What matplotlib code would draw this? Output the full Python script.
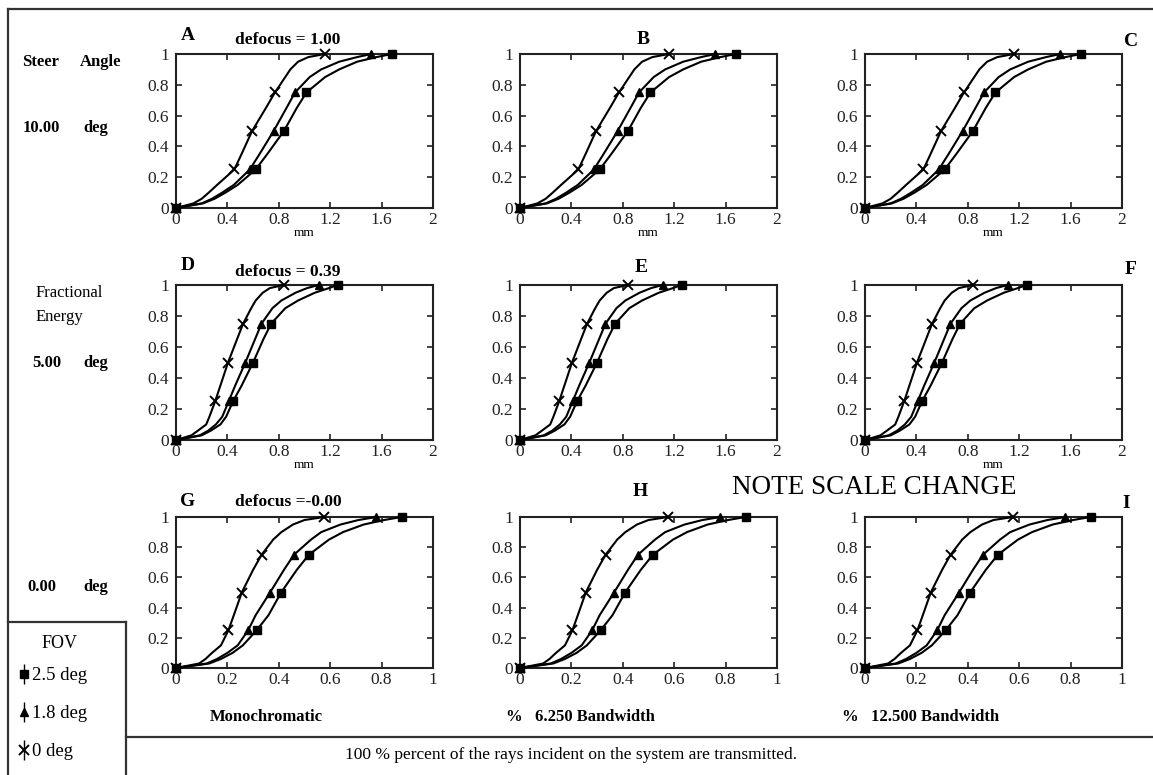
import matplotlib
matplotlib.use('Agg')
import matplotlib.pyplot as plt
from matplotlib.lines import Line2D
from matplotlib.legend_handler import HandlerTuple

plt.rcParams['font.family'] = ['Liberation Serif', 'DejaVu Serif']

# fractional energy levels where the radius (mm) was read
energy = [0, 0.03, 0.06, 0.1, 0.15, 0.25, 0.35, 0.5, 0.65, 0.75, 0.85, 0.9, 0.95, 0.98, 1.0]
marker_idx = [0, 5, 7, 9, 14]   # markers at 0, .25, .5, .75, 1

# row 1 : steer 10 deg, defocus 1.00
r1_fov0 = [0, 0.136, 0.20, 0.255, 0.32, 0.454, 0.51, 0.592, 0.70, 0.77, 0.85, 0.89, 0.95, 1.03, 1.16]
r1_fov18 = [0, 0.20, 0.28, 0.36, 0.45, 0.574, 0.65, 0.76, 0.86, 0.926, 1.04, 1.13, 1.27, 1.41, 1.52]
r1_fov25 = [0, 0.21, 0.30, 0.385, 0.48, 0.62, 0.71, 0.84, 0.94, 1.015, 1.16, 1.27, 1.41, 1.56, 1.68]
# row 2 : steer 5 deg, defocus 0.39
r2_fov0 = [0, 0.12, 0.17, 0.235, 0.26, 0.305, 0.345, 0.405, 0.475, 0.522, 0.585, 0.62, 0.675, 0.73, 0.84]
r2_fov18 = [0, 0.185, 0.25, 0.31, 0.36, 0.41, 0.46, 0.54, 0.615, 0.665, 0.75, 0.82, 0.93, 1.02, 1.11]
r2_fov25 = [0, 0.20, 0.27, 0.345, 0.39, 0.444, 0.51, 0.60, 0.68, 0.74, 0.85, 0.95, 1.08, 1.19, 1.257]
# row 3 : steer 0 deg, defocus -0.00
r3_fov0 = [0, 0.09, 0.115, 0.14, 0.175, 0.204, 0.225, 0.256, 0.30, 0.333, 0.378, 0.41, 0.455, 0.50, 0.576]
r3_fov18 = [0, 0.12, 0.16, 0.20, 0.24, 0.281, 0.31, 0.366, 0.42, 0.459, 0.525, 0.565, 0.64, 0.71, 0.78]
r3_fov25 = [0, 0.13, 0.175, 0.22, 0.26, 0.314, 0.36, 0.409, 0.47, 0.517, 0.595, 0.65, 0.73, 0.81, 0.878]

rows_data = [(r1_fov0, r1_fov18, r1_fov25),
             (r2_fov0, r2_fov18, r2_fov25),
             (r3_fov0, r3_fov18, r3_fov25)]

panel_letters = [['A', 'B', 'C'], ['D', 'E', 'F'], ['G', 'H', 'I']]
defocus_labels = ['defocus = 1.00', 'defocus = 0.39', 'defocus =-0.00']
steer_labels = ['10.00', '5.00', '0.00']
bandwidth_labels = ['Monochromatic', '%   6.250 Bandwidth', '%   12.500 Bandwidth']
fov_labels = ['2.5 deg', '1.8 deg', '0 deg']

y_ticks = [0, 0.2, 0.4, 0.6, 0.8, 1]
y_ticklabels = ['0', '0.2', '0.4', '0.6', '0.8', '1']
x_ticks_wide = [0, 0.4, 0.8, 1.2, 1.6, 2]
x_ticklabels_wide = ['0', '0.4', '0.8', '1.2', '1.6', '2']
x_ticks_narrow = [0, 0.2, 0.4, 0.6, 0.8, 1]
x_ticklabels_narrow = ['0', '0.2', '0.4', '0.6', '0.8', '1']

W, H = 1153, 775
fig = plt.figure(figsize=(W / 100, H / 100), dpi=100)

# background axes in pixel coordinates for frame lines and loose text
bg = fig.add_axes([0, 0, 1, 1])
bg.set_xlim(0, W)
bg.set_ylim(H, 0)
bg.axis('off')

frame = dict(color='#333333', lw=1.6)
bg.plot([8, W], [9, 9], **frame)
bg.plot([8, 8], [9, H], **frame)
bg.plot([8, 126], [622, 622], **frame)
bg.plot([126, 126], [622, H], **frame)
bg.plot([126, W], [737, 737], **frame)

col_left = [176, 520, 865]
panel_w = 257
row_top = [54, 285, 517]
row_bot = [208, 440, 668]

styles = [dict(marker='x', ms=7, mew=1.4),
          dict(marker='^', ms=6, mew=1),
          dict(marker='s', ms=5.5, mew=1)]

mm_label = [[True, True, True], [True, False, True], [False, False, False]]

for r in range(3):
    for c in range(3):
        x0 = col_left[c] / W
        y0 = 1 - row_bot[r] / H
        h = (row_bot[r] - row_top[r]) / H
        ax = fig.add_axes([x0, y0, panel_w / W, h])
        for data, st in zip(rows_data[r], styles):
            ax.plot(data, energy, color='black', lw=1.5, markevery=marker_idx,
                    clip_on=False, zorder=3, **st)
        ax.set_ylim(0, 1)
        ax.set_yticks(y_ticks)
        ax.set_yticklabels(y_ticklabels)
        if r < 2:
            ax.set_xlim(0, 2)
            ax.set_xticks(x_ticks_wide)
            ax.set_xticklabels(x_ticklabels_wide)
        else:
            ax.set_xlim(0, 1)
            ax.set_xticks(x_ticks_narrow)
            ax.set_xticklabels(x_ticklabels_narrow)
        ax.tick_params(direction='in', top=True, right=True, length=4, width=1.2,
                       labelsize=12.5, colors='#222222')
        ax.tick_params(axis='y', pad=5)
        ax.tick_params(axis='x', pad=3)
        for s in ax.spines.values():
            s.set_linewidth(1.5)
            s.set_color('#222222')
        if mm_label[r][c]:
            ax.set_xlabel('mm', fontsize=9.5, labelpad=-1)

# panel letters and defocus titles
letter_pos = [[(188, 36), (643, 39), (1131, 41)],
              [(188, 265), (641, 268), (1131, 270)],
              [(188, 501), (640, 491), (1126, 503)]]
for r in range(3):
    for c in range(3):
        lx, ly = letter_pos[r][c]
        bg.text(lx, ly, panel_letters[r][c], fontsize=14, fontweight='bold',
                ha='center', va='center')
    bg.text(288, [40, 272, 502][r], defocus_labels[r], fontsize=12.5,
            fontweight='bold', ha='center', va='center')

# left side labels
bg.text(22, 62, 'Steer', fontsize=12, fontweight='bold', va='center')
bg.text(80, 62, 'Angle', fontsize=12, fontweight='bold', va='center')
bg.text(36, 293, 'Fractional', fontsize=12, va='center')
bg.text(36, 317, 'Energy', fontsize=12, va='center')
for y, s, xs in zip([128, 363, 587], steer_labels, [23, 32, 27]):
    bg.text(xs, y, s, fontsize=12, fontweight='bold', va='center')
    bg.text(83, y, 'deg', fontsize=12, fontweight='bold', va='center')

bg.text(874, 487, 'NOTE SCALE CHANGE', fontsize=19.5, ha='center', va='center')

# bottom captions
for x, s in zip([266, 580, 921], bandwidth_labels):
    bg.text(x, 717, s, fontsize=12, fontweight='bold', ha='center', va='center')
bg.text(571, 755, '100 % percent of the rays incident on the system are transmitted.',
        fontsize=12.5, ha='center', va='center')

# FOV key
bg.text(60, 644, 'FOV', fontsize=13, ha='center', va='center')
handles = []
for st in reversed(styles):
    bar = Line2D([], [], color='black', marker='|', ms=14, mew=1, linestyle='none')
    mk = Line2D([], [], color='black', linestyle='none', **st)
    handles.append((bar, mk))
bg.legend(handles, fov_labels, loc='upper left',
          bbox_to_anchor=(18, 667), bbox_transform=bg.transData,
          frameon=False, fontsize=13.5,
          handler_map={tuple: HandlerTuple(ndivide=1)},
          handlelength=0.6, handletextpad=0.15, labelspacing=1.12,
          borderpad=0, borderaxespad=0)

fig.savefig('out.png', dpi=100)
